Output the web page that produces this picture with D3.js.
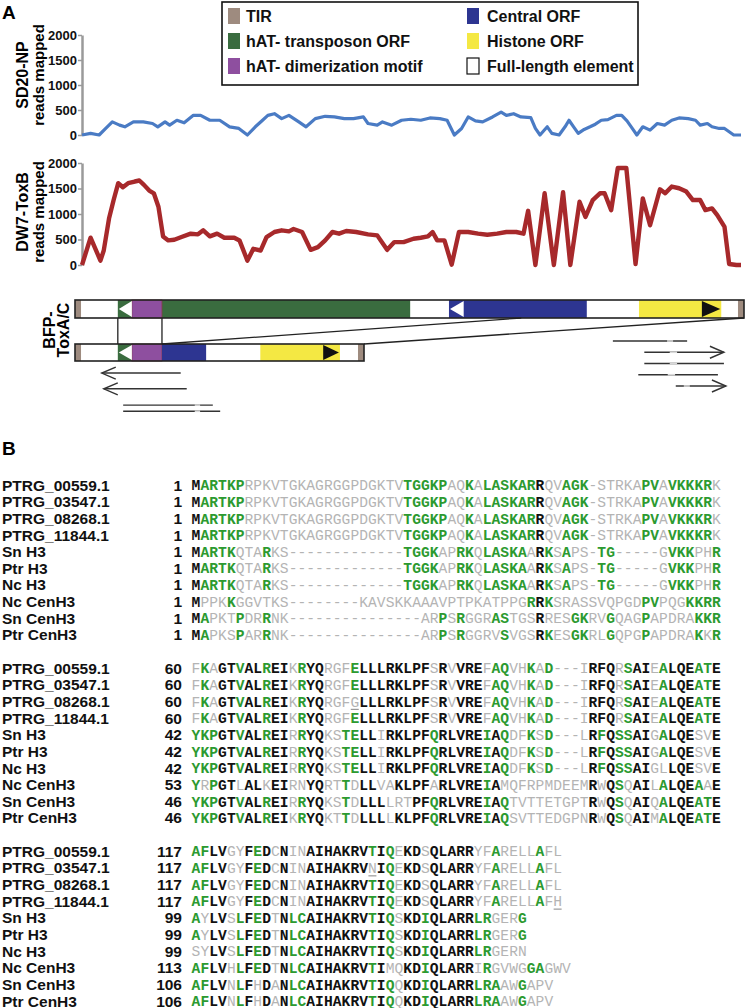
<!DOCTYPE html>
<html>
<head>
<meta charset="utf-8">
<script src="https://cdnjs.cloudflare.com/ajax/libs/d3/7.8.5/d3.min.js"></script>
<style>
body { margin: 0; background: #fff; }
</style>
</head>
<body>
<script>
//----- data -----

//read coverage along the element (position in arbitrary units 0-1000)
var sdPos   = [0,13,26,36,46,57,65,78,93,107,115,126,133,144,155,169,180,194,209,224,238,251,263,274,282,292,303,314,329,340,354,369,383,398,412,427,434,448,456,470,485,499,514,528,543,554,565,576,586,597,608,623,636,644,655,666,681,688,695,706,713,724,733,739,746,753,762,771,779,788,798,811,819,827,835,842,851,862,873,884,895,906,920,931,938,949,956,967,975,982,989,1000];
var sdReads = [0,33,0,131,262,197,164,262,262,230,164,262,197,295,243,393,393,295,295,164,131,0,164,295,393,426,328,393,262,164,328,374,361,328,328,361,230,197,262,197,295,315,295,341,328,295,0,131,361,282,262,361,459,393,426,361,348,131,0,164,33,0,164,295,164,33,111,164,216,295,308,393,393,282,131,0,164,98,230,197,295,341,328,295,197,230,164,131,131,66,0,0];

var dwPos   = [0,13,28,33,41,48,55,62,70,80,87,94,102,109,116,123,131,140,151,165,176,184,194,205,216,231,239,251,260,271,280,292,303,314,321,334,347,358,369,380,390,401,416,434,448,463,474,488,503,514,525,532,539,550,561,572,586,601,615,630,644,659,670,677,688,702,716,730,741,755,764,775,786,793,803,813,826,840,851,862,877,885,895,906,917,927,938,946,956,964,975,982,993,1000];
var dwReads = [0,535,86,284,911,1274,1604,1525,1604,1637,1657,1571,1459,1406,1142,561,482,495,548,614,601,680,561,614,535,535,482,86,317,284,548,647,680,660,706,647,297,350,482,647,614,667,647,601,581,297,449,449,515,535,561,647,482,482,7,647,647,614,594,614,647,647,614,1063,0,1406,0,1426,0,1241,944,1274,1406,1406,1076,1901,1901,20,1307,779,1485,1406,1538,1505,1439,1274,1274,1076,1109,977,746,20,0,0];

var yTicks = [0, 500, 1000, 1500, 2000];

//legend
var legendLabels = ["TIR", "hAT- transposon ORF", "hAT- dimerization motif", "Central ORF", "Histone ORF", "Full-length element"];
var legendKeys   = ["tir", "hat", "dimer", "central", "histone", "full"];

//element features (units 0-1000 along the full-length element)
var fullFeatures = [
    {type: "hat", s: 64, e: 501},
    {type: "dimer", s: 85, e: 130},
    {type: "central", s: 559, e: 765},
    {type: "histone", s: 843, e: 966},
    {type: "tir", s: 0, e: 9},
    {type: "tir", s: 991, e: 1000}
];
var fullArrows = [{s: 64, e: 85, dir: -1, fill: "#fff"}, {s: 559, e: 581, dir: -1, fill: "#fff"}, {s: 937, e: 966, dir: 1, fill: "#111"}];
var shortLength = 432;
var shortFeatures = [
    {type: "hat", s: 64, e: 85},
    {type: "dimer", s: 85, e: 130},
    {type: "central", s: 130, e: 196},
    {type: "histone", s: 277, e: 396},
    {type: "tir", s: 0, e: 9},
    {type: "tir", s: 423, e: 432}
];
var shortArrows = [{s: 64, e: 85, dir: -1, fill: "#fff"}, {s: 371, e: 396, dir: 1, fill: "#111"}];

//mapped read pairs under the diagram
var reads = [
    {s: 40, e: 158, lane: 2.85, dir: -1},
    {s: 43, e: 167, lane: 4.25, dir: -1},
    {s: 72, e: 206, lane: 5.7, dir: 0, gs: 179, ge: 187},
    {s: 72, e: 217, lane: 6.25, dir: 0, gs: 179, ge: 187},
    {s: 804, e: 915, lane: 0, dir: 0, gs: 885, ge: 894},
    {s: 851, e: 970, lane: 1, dir: 1, gs: 889, ge: 900},
    {s: 851, e: 970, lane: 2, dir: 0, gs: 889, ge: 900},
    {s: 842, e: 961, lane: 3, dir: 0, gs: 886, ge: 897},
    {s: 898, e: 973, lane: 4, dir: 1, gs: 910, ge: 919}
];

//alignment
var seqNames = ["PTRG_00559.1", "PTRG_03547.1", "PTRG_08268.1", "PTRG_11844.1", "Sn H3", "Ptr H3", "Nc H3", "Nc CenH3", "Sn CenH3", "Ptr CenH3"];
var seqStarts = [
    [1, 1, 1, 1, 1, 1, 1, 1, 1, 1],
    [60, 60, 60, 60, 42, 42, 42, 53, 46, 46],
    [117, 117, 117, 117, 99, 99, 99, 113, 106, 106]
];
var seqBlock1 = [
    "MARTKPRPKVTGKAGRGGPDGKTVTGGKPAQKALASKARRQVAGK-STRKAPVAVKKKRK",
    "MARTKPRPKVTGKAGRGGPDGKTVTGGKPAQKALASKARRQVAGK-STRKAPVAVKKKRK",
    "MARTKPRPKVTGKAGRGGPDGKTVTGGKPAQKALASKARRQVAGK-STRKAPVAVKKKRK",
    "MARTKPRPKVTGKAGRGGPDGKTVTGGKPAQKALASKARRQVAGK-STRKAPVAVKKKRK",
    "MARTKQTARKS-------------TGGKAPRKQLASKAARKSAPS-TG-----GVKKPHR",
    "MARTKQTARKS-------------TGGKAPRKQLASKAARKSAPS-TG-----GVKKPHR",
    "MARTKQTARKS-------------TGGKAPRKQLASKAARKSAPS-TG-----GVKKPHR",
    "MPPKKGGVTKS--------KAVSKKAAAVPTPKATPPGRRKSRASSVQPGDPVPQGKKRR",
    "MAPKTPDRRNK---------------ARPSRGGRASTGSRRESGKRVGQAGPAPDRAKKR",
    "MAPKSPARRNK---------------ARPSRGGRVSVGSRKESGKRLGQPGPAPDRAKKR"
];
var seqBlock2 = [
    "FKAGTVALREIKRYQRGFELLLRKLPFSRVVREFAQVHKAD---IRFQRSAIEALQEATE",
    "FKAGTVALREIKRYQRGFELLLRKLPFSRVVREFAQVHKAD---IRFQRSAIEALQEATE",
    "FKAGTVALREIKRYQRGFGLLLRKLPFSRVVREFAQVHKAD---IRFQRSAIEALQEATE",
    "FKAGTVALREIKRYQRGFELLLRKLPFSRVVREFAQVHKAD---IRFQRSAIEALQEATE",
    "YKPGTVALREIRRYQKSTELLIRKLPFQRLVREIAQDFKSD---LRFQSSAIGALQESVE",
    "YKPGTVALREIRRYQKSTELLIRKLPFQRLVREIAQDFKSD---LRFQSSAIGALQESVE",
    "YKPGTVALREIRRYQKSTELLIRKLPFQRLVREIAQDFKSD---LRFQSSAIGLLQESVE",
    "YRPGTLALKEIRNYQRTTDLLVAKLPFARLVREIAMQFRPMDEEMRWQSQAILALQEAAE",
    "YKPGTVALREIRRYQKSTDLLLLRTPFQRLVREIAQTVTTETGPTRWQSQAIQALQEATE",
    "YKPGTVALREIKRYQKTTDLLLLKLPFQRLVREIAQSVTTEDGPNRWQSQAIMALQEATE"
];
var seqBlock3 = [
    "AFLVGYFEDCNINAIHAKRVTIQEKDSQLARRYFARELLAFL",
    "AFLVGYFEDCNINAIHAKRVNIQEKDSQLARRYFARELLAFL",
    "AFLVGYFEDCNINAIHAKRVTIQEKDSQLARRYFARELLAFL",
    "AFLVGYFEDCNINAIHAKRVTIQEKDSQLARRYFARELLAFH",
    "AYLVSLFEDTNLCAIHAKRVTIQSKDIQLARRLRGERG",
    "AYLVSLFEDTNLCAIHAKRVTIQSKDIQLARRLRGERG",
    "SYLVSLFEDTNLCAIHAKRVTIQSKDIQLARRLRGERN",
    "AFLVHLFEDTNLCAIHAKRVTIMQKDIQLARRIRGVWGGAGWV",
    "AFLVNLFHDANLCAIHAKRVTIQQKDIQLARRLRAAWGAPV",
    "AFLVNLFHDANLCAIHAKRVTIQQKDIQLARRLRAAWGAPV"
];
//k = identical (black), g = similar (green), l = other (grey), u = grey underlined
var maskBlock1 = [
    "k ggggg llllllllllllllllll ggggg ll g l gggggg k ll ggg l lllll gg l ggggg l",
    "k ggggg llllllllllllllllll ggggg ll g l gggggg k ll ggg l lllll gg l ggggg l",
    "k ggggg llllllllllllllllll ggggg ll g l gggggg k ll ggg l lllll gg l ggggg l",
    "k ggggg llllllllllllllllll ggggg ll g l gggggg k ll ggg l lllll gg l ggggg l",
    "k gggg lll g ll lllllllllllll gggg ll gg l ggggg l k g l g ll l gg lllll l ggg ll g",
    "k gggg lll g ll lllllllllllll gggg ll gg l ggggg l k g l g ll l gg lllll l ggg ll g",
    "k gggg lll g ll lllllllllllll gggg ll gg l ggggg l k g l g ll l gg lllll l ggg ll g",
    "k lll g llllll llllllll lllllllllllllllllll g k g llllllllll gg lll gggg",
    "k g lll g ll g ll lllllllllllllll ll g l g lll gg lll k lll gg ll g lll g lllll ggg",
    "k g lll g ll g ll lllllllllllllll ll g l g llll g lll k g ll gg ll g lll g lllll g l g"
];
var maskBlock2 = [
    "l g l kk g kk g kk l g kk lll g kkkkkkkk l k l kkk l g g ll g l g lll l kkk l g kk l g kkk gg k",
    "l g l kk g kk g kk l g kk lll g kkkkkkkk l k l kkk l g g ll g l g lll l kkk l g kk l g kkk gg k",
    "l g l kk g kk g kk l g kk lll u kkkkkkkk l k l kkk l g g ll g l g lll l kkk l g kk l g kkk gg k",
    "l g l kk g kk g kk l g kk lll g kkkkkkkk l k l kkk l g g ll g l g lll l kkk l g kk l g kkk gg k",
    "ggg kk g kk g kk l g kk ll gg kk l kkkkk g kkkkk g k g ll g l g lll l k g k gg kk l g kkk ll k",
    "ggg kk g kk g kk l g kk ll gg kk l kkkkk g kkkkk g k g ll g l g lll l k g k gg kk l g kkk ll k",
    "ggg kk g kk g kk l g kk ll gg kk l kkkkk g kkkkk g k g ll g l g lll l k g k gg kk l l kkk ll k",
    "g l g kk l kk l kk ll kk ll g l kk ll kkkk l kkkkk g k llllllllll k l k g l kk l g kkk g l k",
    "ggg kk g kk g kk l g kk ll g l kkk lll kk g kkkkk g k g lllllllll k l k g l kk l g kkk gg k",
    "ggg kk g kk g kk l g kk ll g l kkk l kkkk g kkkkk g k g lllllllll k l k g l kk l g kkk gg k"
];
var maskBlock3 = [
    "gg kk ll k g k l k ll kkkkkkk g k g l kk l kkkkk ll g llll g ll",
    "gg kk ll k g k l k ll kkkkkkk u k g l kk l kkkkk ll g llll g ll",
    "gg kk ll k g k l k ll kkkkkkk g k g l kk l kkkkk ll g llll g ll",
    "gg kk ll k g k l k ll kkkkkkk g k g l kk l kkkkk ll g llll g lu",
    "g l kk l g k g k l k gg kkkkkkk g k g l kk g kkkkk gg lll g",
    "g l kk l g k g k l k gg kkkkkkk g k g l kk g kkkkk gg lll g",
    "l l kk l g k g k l k gg kkkkkkk g k g l kk g kkkkk gg llll",
    "gg kk l g k g k l k gg kkkkkkk g k ll kk g kkkkk l g llll g g lll",
    "gg kk l g k l k l k gg kkkkkkk g k g l kk g kkkkk ggg ll g lll",
    "gg kk l g k l k l k gg kkkkkkk g k g l kk g kkkkk ggg ll g lll"
];

//----- drawing -----
window.onload = function() {

    var w = 747, h = 1008;
    var sans = "'Liberation Sans', Arial, Helvetica, sans-serif";
    var mono = "'Liberation Mono', 'Courier New', monospace";

    var featColor = {tir: "#9e8b7f", hat: "#3a6c3f", dimer: "#8e4f9f", central: "#2d3591", histone: "#f4e843", full: "#ffffff"};

    var svg = d3.select("body").append("svg")
        .attr("width", w)
        .attr("height", h)
        .style("font-family", sans);

    //panel letters
    svg.append("text").attr("x", 2).attr("y", 19).text("A")
        .style("font-weight", "bold").style("font-size", "19px");
    svg.append("text").attr("x", 2).attr("y", 455).text("B")
        .style("font-weight", "bold").style("font-size", "19px");

    //legend
    svg.append("rect").attr("x", 222).attr("y", 2).attr("width", 416).attr("height", 83)
        .attr("fill", "#fff").attr("stroke", "#111").attr("stroke-width", 1.6);
    var legend = svg.selectAll(".legendItem")
        .data(legendLabels)
        .enter()
        .append("g")
        .attr("class", "legendItem")
        .attr("transform", function(d, i) {
            return "translate(" + (i < 3 ? 228 : 467) + "," + (16 + (i % 3) * 25) + ")";
        });
    legend.append("rect")
        .attr("x", 0).attr("y", -8).attr("width", 12).attr("height", 16)
        .attr("fill", function(d, i) { return featColor[legendKeys[i]]; })
        .attr("stroke", function(d, i) { return legendKeys[i] == "full" ? "#111" : "none"; })
        .attr("stroke-width", 1.2);
    legend.append("text")
        .attr("x", function(d, i) { return i < 3 ? 18 : 20; })
        .attr("y", 6)
        .text(function(d) { return d; })
        .style("font-weight", "bold").style("font-size", "16px").attr("fill", "#111");

    //coverage plots
    var x = d3.scaleLinear().domain([0, 1000]).range([82, 741]);

    function coverage(pos, vals, top, bottom, color, width, title, cy) {
        var y = d3.scaleLinear().domain([0, 2000]).range([bottom, top]);
        var axis = svg.append("g")
            .attr("transform", "translate(82,0)")
            .call(d3.axisLeft(y).tickValues(yTicks).tickFormat(d3.format("d"))
                .tickSize(4).tickSizeOuter(0).tickPadding(1));
        axis.select(".domain").attr("stroke", "#9a9a9a").attr("stroke-width", 2.5);
        axis.selectAll(".tick line").attr("stroke", "#9a9a9a").attr("stroke-width", 1.5);
        axis.selectAll(".tick text")
            .style("font-family", sans).style("font-weight", "bold").style("font-size", "13px")
            .attr("fill", "#111");

        var line = d3.line()
            .x(function(d, i) { return x(pos[i]); })
            .y(function(d) { return y(d); });
        svg.append("path")
            .datum(vals)
            .attr("d", line)
            .attr("fill", "none")
            .attr("stroke", color)
            .attr("stroke-width", width)
            .attr("stroke-linejoin", "round");

        svg.append("text")
            .attr("transform", "translate(28," + cy + ") rotate(-90)")
            .attr("text-anchor", "middle")
            .text(title)
            .style("font-weight", "bold").style("font-size", "16px");
        svg.append("text")
            .attr("transform", "translate(44," + cy + ") rotate(-90)")
            .attr("text-anchor", "middle")
            .text("reads mapped")
            .style("font-weight", "bold").style("font-size", "15px");
    }

    coverage(sdPos, sdReads, 35, 135, "#4a7bc4", 3.2, "SD20-NP", 75);
    coverage(dwPos, dwReads, 163, 265, "#a7292b", 4.4, "DW7-ToxB", 212);

    //element diagram
    var dx = d3.scaleLinear().domain([0, 1000]).range([75, 744]);

    function element(len, feats, arrows, top, bottom) {
        var g = svg.append("g");
        g.append("rect")
            .attr("x", dx(0)).attr("y", top)
            .attr("width", dx(len) - dx(0)).attr("height", bottom - top)
            .attr("fill", "#fff");
        g.selectAll(".feat")
            .data(feats)
            .enter()
            .append("rect")
            .attr("class", "feat")
            .attr("x", function(d) { return dx(d.s); })
            .attr("y", top)
            .attr("width", function(d) { return dx(d.e) - dx(d.s); })
            .attr("height", bottom - top)
            .attr("fill", function(d) { return featColor[d.type]; })
            .attr("stroke", function(d) { return d.type == "dimer" ? "#8a3b4a" : "none"; })
            .attr("stroke-width", 0.8);
        g.selectAll(".arrow")
            .data(arrows)
            .enter()
            .append("path")
            .attr("class", "arrow")
            .attr("d", function(d) {
                var tip = d.dir < 0 ? dx(d.s) + 1 : dx(d.e) - 1;
                var base = d.dir < 0 ? dx(d.e) : dx(d.s);
                return "M" + tip + "," + (top + bottom) / 2 + "L" + base + "," + (top + 1) + "L" + base + "," + (bottom - 1) + "Z";
            })
            .attr("fill", function(d) { return d.fill; });
        g.append("rect")
            .attr("x", dx(0)).attr("y", top)
            .attr("width", dx(len) - dx(0)).attr("height", bottom - top)
            .attr("fill", "none").attr("stroke", "#222").attr("stroke-width", 1.6);
    }

    element(1000, fullFeatures, fullArrows, 300, 318);
    element(shortLength, shortFeatures, shortArrows, 344, 361);

    //zoom lines between the two elements
    var links = [[64, 318, 64, 344], [130, 318, 130, 344], [130, 344, 667, 318], [shortLength, 344, 1000, 318]];
    svg.selectAll(".link")
        .data(links)
        .enter()
        .append("line")
        .attr("class", "link")
        .attr("x1", function(d) { return dx(d[0]); })
        .attr("y1", function(d) { return d[1]; })
        .attr("x2", function(d) { return dx(d[2]); })
        .attr("y2", function(d) { return d[3]; })
        .attr("stroke", "#222").attr("stroke-width", 1.3);

    svg.append("text")
        .attr("transform", "translate(55,330) rotate(-90)")
        .attr("text-anchor", "middle")
        .text("BFP-")
        .style("font-weight", "bold").style("font-size", "16px");
    svg.append("text")
        .attr("transform", "translate(69,330) rotate(-90)")
        .attr("text-anchor", "middle")
        .text("ToxA/C")
        .style("font-weight", "bold").style("font-size", "16px");

    //reads
    var laneY = d3.scaleLinear().domain([0, 4]).range([341, 386]);
    var readG = svg.selectAll(".read")
        .data(reads)
        .enter()
        .append("g")
        .attr("class", "read");
    readG.append("line")
        .attr("x1", function(d) { return dx(d.s); })
        .attr("x2", function(d) { return dx(d.e); })
        .attr("y1", function(d) { return laneY(d.lane); })
        .attr("y2", function(d) { return laneY(d.lane); })
        .attr("stroke", "#333").attr("stroke-width", 1.4);
    readG.filter(function(d) { return d.gs != null; })
        .append("line")
        .attr("x1", function(d) { return dx(d.gs); })
        .attr("x2", function(d) { return dx(d.ge); })
        .attr("y1", function(d) { return laneY(d.lane); })
        .attr("y2", function(d) { return laneY(d.lane); })
        .attr("stroke", "#d8d8d8").attr("stroke-width", 1.6);
    readG.filter(function(d) { return d.dir != 0; })
        .append("path")
        .attr("d", function(d) {
            var yy = laneY(d.lane);
            var tip = d.dir < 0 ? dx(d.s) : dx(d.e);
            var back = tip - d.dir * 14;
            return "M" + back + "," + (yy - 6) + "L" + tip + "," + yy + "L" + back + "," + (yy + 6);
        })
        .attr("fill", "none").attr("stroke", "#333").attr("stroke-width", 1.4);

    //sequence alignment
    var rowY = d3.scaleLinear().domain([0, 31]).range([485, 1001]);
    var colX = d3.scaleLinear().domain([1, 60]).range([196, 716.4]);
    var resColor = {k: "#111", g: "#2c9a30", l: "#b4b4b4", u: "#b4b4b4"};

    var blocks = [[seqBlock1, maskBlock1], [seqBlock2, maskBlock2], [seqBlock3, maskBlock3]];
    blocks.forEach(function(b, bi) {
        b[0].forEach(function(seq, ri) {
            var yy = rowY(bi * 11 + ri);
            var mask = b[1][ri].replace(/ /g, "");
            if (mask.length != seq.length) console.log("mask length", bi, ri, mask.length, seq.length);
            svg.append("text")
                .attr("x", 2).attr("y", yy).attr("dy", "0.36em")
                .text(seqNames[ri])
                .style("font-weight", "bold").style("font-size", "15.5px").attr("fill", "#111");
            svg.append("text")
                .attr("x", 182).attr("y", yy).attr("dy", "0.36em")
                .attr("text-anchor", "end")
                .text(seqStarts[bi][ri])
                .style("font-weight", "bold").style("font-size", "15.5px").attr("fill", "#111");
            var res = seq.split("").map(function(c, i) { return {c: c, m: mask[i], col: i + 1}; });
            var rg = svg.append("g").style("font-family", mono).style("font-size", "14.6px");
            rg.selectAll("text")
                .data(res)
                .enter()
                .append("text")
                .attr("x", function(d) { return colX(d.col); })
                .attr("y", yy).attr("dy", "0.36em")
                .attr("text-anchor", "middle")
                .attr("fill", function(d) { return resColor[d.m] || "#b4b4b4"; })
                .style("font-weight", function(d) { return d.m == "k" || d.m == "g" ? "bold" : "normal"; })
                .text(function(d) { return d.c; });
            rg.selectAll("line")
                .data(res.filter(function(d) { return d.m == "u"; }))
                .enter()
                .append("line")
                .attr("x1", function(d) { return colX(d.col) - 4; })
                .attr("x2", function(d) { return colX(d.col) + 4; })
                .attr("y1", yy + 8).attr("y2", yy + 8)
                .attr("stroke", "#999").attr("stroke-width", 1.2);
        });
    });
};
</script>
</body>
</html>
